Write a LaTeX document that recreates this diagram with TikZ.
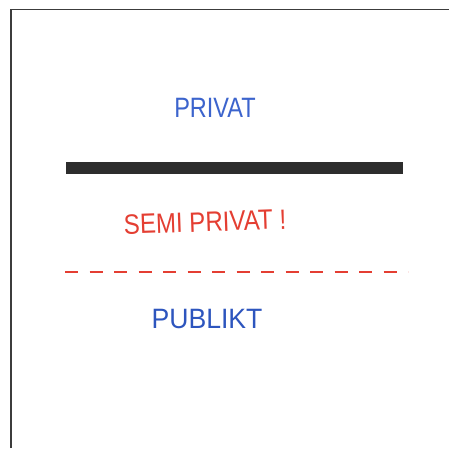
\documentclass[tikz,border=0pt]{standalone}
\usepackage{fontspec}
\usepackage{graphicx}
\setmainfont{Liberation Sans}
\definecolor{penblue}{RGB}{60,100,205}
\definecolor{penblue2}{RGB}{45,85,190}
\definecolor{penred}{RGB}{228,62,50}
\definecolor{marker}{RGB}{45,45,45}
\definecolor{frame}{RGB}{60,60,60}
\tikzset{
  label/.style={inner sep=0pt, font=\fontsize{28}{28}\selectfont},
  framestroke/.style={draw=frame},
}
\begin{document}
\begin{tikzpicture}[x=1pt,y=1pt]
\useasboundingbox (0,0) rectangle (449,448);
\fill[white] (0,0) rectangle (449,448);
% frame
\draw[framestroke, line width=1.5pt] (10,438.5) -- (449,438.5);
\draw[framestroke, line width=2.8pt] (11,0) -- (11,439);
% labels
\node[label, text=penblue] (privat) at (215,340) {\scalebox{0.84}[1]{PRIVAT}};
\node[label, text=penred, rotate=2] (semi) at (205,226) {\scalebox{0.86}[1]{SEMI PRIVAT !}};
\node[label, text=penblue2] (publikt) at (207,129) {\scalebox{0.95}[1]{PUBLIKT}};
% thick marker bar
\draw[marker, line width=12pt] (66,280) -- (403,280);
% dashed red line
\draw[penred, line width=2pt, dash pattern=on 13pt off 11.5pt] (65,176) -- (408,176);
\end{tikzpicture}
\end{document}
